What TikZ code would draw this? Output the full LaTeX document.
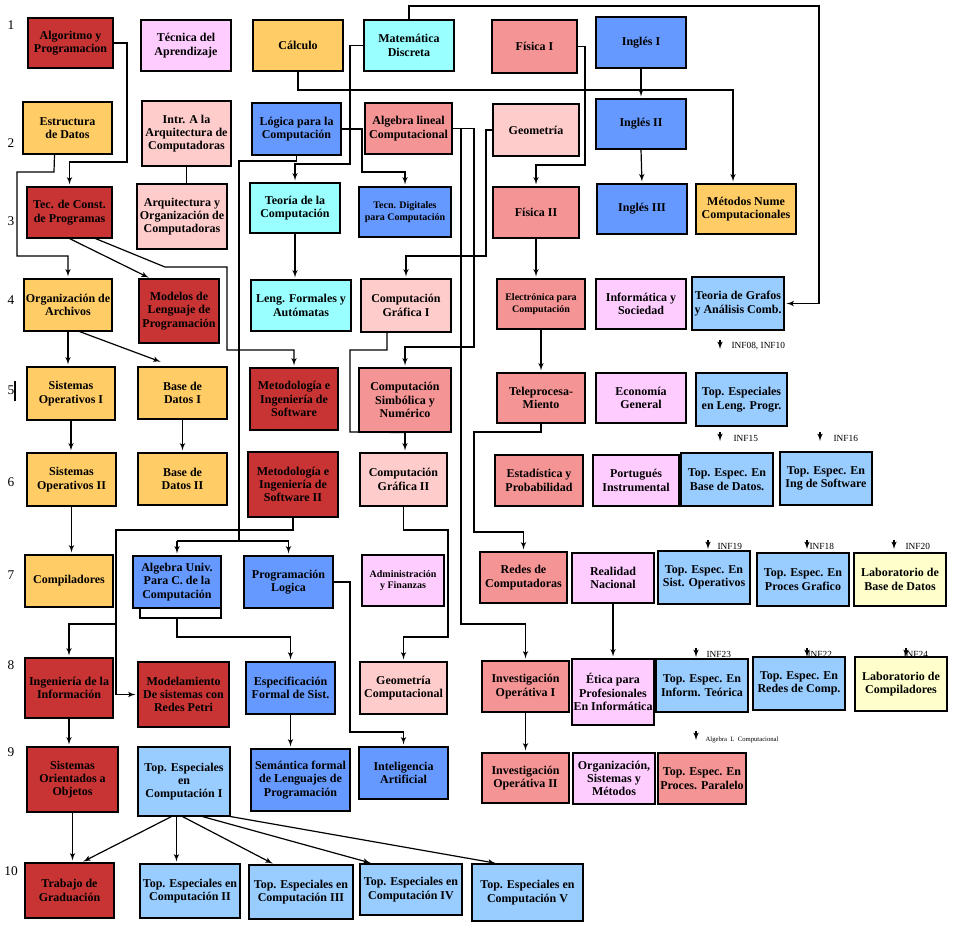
\documentclass[tikz,border=0pt]{standalone}
\usepackage{fontspec}
\setmainfont{Liberation Serif}
\usetikzlibrary{arrows, positioning, calc}

\definecolor{cred}{RGB}{200,52,52}
\definecolor{corange}{RGB}{255,204,102}
\definecolor{cpink}{RGB}{255,204,255}
\definecolor{ccyan}{RGB}{153,255,255}
\definecolor{csalmon}{RGB}{245,148,148}
\definecolor{clpink}{RGB}{255,204,204}
\definecolor{cblue}{RGB}{102,153,255}
\definecolor{clblue}{RGB}{153,204,255}
\definecolor{cyellow}{RGB}{255,255,204}

\begin{document}
\begin{tikzpicture}[
    x=0.75pt, y=-0.75pt,
    course/.style n args={4}{rectangle, draw, line width=0.8pt, inner sep=0pt, align=center,
        font=\fontsize{9}{10}\selectfont\bfseries,
        at={({(#1+#3)/2},{(#2+#4)/2})},
        minimum width={(#3-#1)*0.75pt}, minimum height={(#4-#2)*0.75pt}},
    smalltxt/.style={font=\fontsize{7.5}{8.5}\selectfont\bfseries},
    ln/.style={draw, line width=0.9pt},
    arr/.style={ln, -latex', shorten >=1.5pt},
    infl/.style={anchor=west, inner sep=1pt, font=\fontsize{7}{8}\selectfont},
    rownum/.style={font=\fontsize{10}{11}\selectfont}
]
    \useasboundingbox (0,0) rectangle (960,933);

    % row numbers
    \foreach \n/\y in {1/25, 2/143, 3/221, 4/300, 5/390, 6/482, 7/575, 8/665, 9/752, 10/871}
        \node[rownum] (row\n) at (11,\y) {\n};
    \draw[line width=0.8pt] (15,381) -- (15,401);

    % semester 1
    \node[course={28}{18}{113}{68}, fill=cred] (alg) {Algoritmo y\\Programacion};
    \node[course={141}{20}{231}{71}, fill=cpink] (tec) {Técnica del\\Aprendizaje};
    \node[course={253}{20}{343}{71}, fill=corange] (calc) {Cálculo};
    \node[course={364}{20}{454}{71}, fill=ccyan] (md) {Matemática\\Discreta};
    \node[course={492}{20}{577}{73}, fill=csalmon] (fis1) {Física I};
    \node[course={596}{17}{686}{68}, fill=cblue] (ing1) {Inglés I};

    % semester 2
    \node[course={23}{102}{112}{154}, fill=corange] (ed) {Estructura\\de Datos};
    \node[course={142}{101}{231}{166}, fill=clpink] (intra) {Intr. A la\\Arquitectura de\\Computadoras};
    \node[course={252}{103}{341}{155}, fill=cblue] (log) {Lógica para la\\Computación};
    \node[course={365}{103}{452}{154}, fill=csalmon] (alglin) {Algebra lineal\\Computacional};
    \node[course={493}{104}{579}{156}, fill=clpink] (geo) {Geometría};
    \node[course={596}{99}{686}{149}, fill=cblue] (ing2) {Inglés II};

    % semester 3
    \node[course={27}{187}{112}{238}, fill=cred] (tcp) {Tec. de Const.\\de Programas};
    \node[course={137}{184}{227}{249}, fill=clpink] (arq) {Arquitectura y\\Organización de\\Computadoras};
    \node[course={250}{183}{340}{233}, fill=ccyan] (tcomp) {Teoría de la\\Computación};
    \node[course={359}{187}{451}{237}, fill=cblue, smalltxt] (tdig) {Tecn. Digitales\\para Computación};
    \node[course={493}{187}{579}{238}, fill=csalmon] (fis2) {Física II};
    \node[course={597}{184}{687}{234}, fill=cblue] (ing3) {Inglés III};
    \node[course={696}{184}{796}{234}, fill=corange] (mnc) {Métodos Nume\\Computacionales};

    % semester 4
    \node[course={24}{279}{112}{331}, fill=corange] (oa) {Organización de\\Archivos};
    \node[course={139}{279}{219}{343}, fill=cred] (mlp) {Modelos de\\Lenguaje de\\Programación};
    \node[course={251}{280}{351}{331}, fill=ccyan] (lfa) {Leng. Formales y\\Autómatas};
    \node[course={361}{279}{451}{332}, fill=clpink] (cg1) {Computación\\Gráfica I};
    \node[course={497}{279}{585}{329}, fill=csalmon, smalltxt] (epc) {Electrónica para\\Computación};
    \node[course={596}{279}{686}{329}, fill=cpink] (is) {Informática y\\Sociedad};
    \node[course={692}{277}{784}{330}, fill=clblue] (tga) {Teoria de Grafos\\y Análisis Comb.};

    % semester 5
    \node[course={27}{367}{115}{420}, fill=corange] (so1) {Sistemas\\Operativos I};
    \node[course={138}{367}{227}{419}, fill=corange] (bd1) {Base de\\Datos I};
    \node[course={250}{368}{338}{430}, fill=cred] (mis) {Metodología e\\Ingeniería de\\Software};
    \node[course={359}{368}{451}{432}, fill=csalmon] (csn) {Computación\\Simbólica y\\Numérico};
    \node[course={497}{373}{585}{423}, fill=csalmon] (tel) {Teleprocesa-\\Miento};
    \node[course={596}{373}{686}{423}, fill=cpink] (eg) {Economía\\General};
    \node[course={696}{373}{787}{426}, fill=clblue] (tlp) {Top. Especiales\\en  Leng. Progr.};

    % semester 6
    \node[course={27}{453}{116}{506}, fill=corange] (so2) {Sistemas\\Operativos II};
    \node[course={138}{453}{227}{505}, fill=corange] (bd2) {Base de\\Datos II};
    \node[course={248}{452}{338}{517}, fill=cred] (mis2) {Metodología e\\Ingeniería de\\Software II};
    \node[course={360}{453}{447}{506}, fill=clpink] (cg2) {Computación\\Gráfica II};
    \node[course={495}{455}{583}{506}, fill=csalmon] (ep) {Estadística y\\Probabilidad};
    \node[course={593}{455}{679}{506}, fill=cpink] (pi) {Portugués\\Instrumental};
    \node[course={681}{453}{773}{506}, fill=clblue] (tebd) {Top. Espec. En\\Base de Datos.};
    \node[course={780}{452}{872}{505}, fill=clblue] (teis) {Top. Espec. En\\Ing de Software};

    % semester 7
    \node[course={25}{555}{113}{607}, fill=corange] (comp) {Compiladores};
    \node[course={133}{556}{221}{608}, fill=cblue] (auc) {Algebra Univ.\\Para C. de la\\Computación};
    \node[course={244}{556}{333}{608}, fill=cblue] (pl) {Programación\\Logica};
    \node[course={362}{555}{444}{606}, fill=cpink, smalltxt] (af) {Administración\\y Finanzas};
    \node[course={480}{552}{567}{603}, fill=csalmon] (rc) {Redes de\\Computadoras};
    \node[course={572}{553}{654}{603}, fill=cpink] (rn) {Realidad\\Nacional};
    \node[course={658}{551}{750}{604}, fill=clblue] (teso) {Top. Espec. En\\Sist. Operativos};
    \node[course={757}{553}{849}{606}, fill=clblue] (tepg) {Top. Espec. En\\Proces Grafico};
    \node[course={854}{553}{946}{606}, fill=cyellow] (lbd) {Laboratorio de\\Base de Datos};

    % semester 8
    \node[course={25}{658}{113}{718}, fill=cred] (ii) {Ingeniería de la\\Información};
    \node[course={138}{662}{229}{727}, fill=cred] (msr) {Modelamiento\\De sistemas con\\Redes Petri};
    \node[course={246}{662}{335}{714}, fill=cblue] (efs) {Especificación\\Formal de Sist.};
    \node[course={360}{662}{447}{714}, fill=clpink] (gc) {Geometría\\Computacional};
    \node[course={482}{661}{569}{712}, fill=csalmon] (io1) {Investigación\\Operátiva I};
    \node[course={572}{659}{654}{725}, fill=cpink] (epi) {Ética para\\Profesionales\\En Informática};
    \node[course={656}{659}{748}{712}, fill=clblue] (teit) {Top. Espec. En\\Inform. Teórica};
    \node[course={753}{657}{845}{710}, fill=clblue] (terc) {Top. Espec. En\\Redes de Comp.};
    \node[course={855}{657}{947}{711}, fill=cyellow] (lc) {Laboratorio de\\Compiladores};

    % semester 9
    \node[course={27}{747}{118}{812}, fill=cred] (soo) {Sistemas\\Orientados a\\Objetos};
    \node[course={138}{747}{230}{816}, fill=clblue] (tec1) {Top. Especiales\\en\\Computación I};
    \node[course={251}{749}{350}{811}, fill=cblue] (sfl) {Semántica formal\\de Lenguajes de\\Programación};
    \node[course={359}{747}{448}{799}, fill=cblue] (ia) {Inteligencia\\Artificial};
    \node[course={482}{753}{569}{803}, fill=csalmon] (io2) {Investigación\\Operátiva II};
    \node[course={573}{753}{655}{804}, fill=cpink] (osm) {Organización,\\Sistemas y\\Métodos};
    \node[course={658}{753}{746}{804}, fill=csalmon] (tepp) {Top. Espec. En\\Proces. Paralelo};

    % semester 10
    \node[course={25}{863}{114}{918}, fill=cred] (tg) {Trabajo de\\Graduación};
    \node[course={140}{864}{240}{918}, fill=clblue] (tec2) {Top. Especiales en\\Computación II};
    \node[course={249}{865}{353}{919}, fill=clblue] (tec3) {Top. Especiales en\\Computación III};
    \node[course={360}{864}{462}{915}, fill=clblue] (tec4) {Top. Especiales en\\Computación IV};
    \node[course={472}{864}{583}{921}, fill=clblue] (tec5) {Top. Especiales en\\Computación V};

    % prerequisites
    \draw[arr] (alg.east) -- (127,43) -- (127,162) -| (tcp.north);
    \draw[arr] ($(ed.south)+(-13,0)$) -- (54,172) -- (17,172) -- (17,256) -| (oa.north);
    \draw[arr] ($(tcp.south west)+(43,0)$) -- ($(mlp.north west)+(12,0)$);
    \draw[arr] ($(tcp.south west)+(69,0)$) -- (165,267) -- (227,267) -- (227,350) -| (mis.north);
    \draw[arr] (oa.south) -- (oa.south |- so1.north);
    \draw[arr] ($(oa.south west)+(56,0)$) -- ($(bd1.north west)+(25,-4)$);
    \draw[arr] (so1.south) -- (so1.south |- so2.north);
    \draw[arr] (bd1.south) -- (bd1.south |- bd2.north);
    \draw[arr] (so2.south) -- (so2.south |- comp.north);
    \draw[ln] (intra.south) -- (intra.south |- arq.north);
    \draw[arr] (calc.south) -- (298,90) -| ($(mnc.north)+(-13,0)$);
    \draw[arr] (md.west) -- (350,45.5) -- (350,164) -| (tcomp.north);
    \draw[arr] (tcomp.south) -- (tcomp.south |- lfa.north);
    \draw[ln] (log.south) -- (296.5,161) -- (239,161) -- (239,541);
    \draw[ln] (177,541) -- (289,541);
    \draw[arr] (177,541) -- (auc.north -| 177,0);
    \draw[arr] (pl.north |- 0,541) -- (pl.north);
    \draw[arr] (log.east) -- (362,129) -- (362,172) -| (tdig.north);
    \draw[arr] (md.north) -- (409,6) -- (819,6) |- (tga.east);
    \draw[arr] (alglin.east) -- (461,128.5) -- (461,624) -| (io1.north);
    \draw[arr] (alglin.east) -- (474,128.5) -- (474,347) -| (csn.north);
    \draw[arr] (geo.west) -- (486,130) -- (486,256) -| (cg1.north);
    \draw[arr] (fis1.east) -- (585,46.5) -- (585,165) -| (fis2.north);
    \draw[arr] (ing1.south) -- (ing2.north);
    \draw[arr] (ing2.south) -- (ing3.north);
    \draw[arr] (fis2.south) -- (fis2.south |- epc.north);
    \draw[arr] (epc.south) -- (epc.south |- tel.north);
    \draw[ln] ($(cg1.south)+(-19,0)$) -- (387,350) -- (350,350) -- (350,432) -- (csn.south);
    \draw[arr] (csn.south) -- (csn.south |- cg2.north);
    \draw[arr] (tel.south) -- (541,432) -- (474,432) -- (474,532) -| (rc.north);
    \draw[ln] (mis2.south) -- (293,530) -- (116,530) -- (116,694.5);
    \draw[arr] (116,694.5) -- (msr.west);
    \draw[arr] (116,624) -| (ii.north);
    \draw[ln] (140,608) -- (140,618) -- (221,618) -- (221,608);
    \draw[arr] (177,618) -- (177,637) -| (efs.north);
    \draw[arr] (pl.east) -- (350,582) -- (350,732) -| (ia.north);
    \draw[arr] (cg2.south) -- (403.5,530) -- (448,530) -- (448,637) -| (gc.north);
    \draw[arr] (rn.south) -- (rn.south |- epi.north);
    \draw[arr] (io1.south) -- (io1.south |- io2.north);
    \draw[arr] (efs.south) -- (efs.south |- sfl.north);
    \draw[arr] (ii.south) -- (ii.south |- soo.north);
    \draw[arr] (soo.south) -- (soo.south |- tg.north);

    % topics I branches
    \draw[arr] ($(tec1.south west)+(34,0)$) -- ($(tg.north west)+(57,0)$);
    \draw[arr] ($(tec1.south west)+(39,0)$) -- ($(tec2.north west)+(37,0)$);
    \draw[arr] ($(tec1.south west)+(45,0)$) -- ($(tec3.north west)+(26,0)$);
    \draw[arr] ($(tec1.south west)+(65,0)$) -- ($(tec4.north west)+(13,0)$);
    \draw[arr] (tec1.south east) -- ($(tec5.north west)+(26,0)$);

    % notes on topics
    \foreach \x/\y/\lx/\t in {720/340/730/{INF08, INF10}, 720/432/732/INF15, 820/432/832/INF16,
        708/540/716/INF19, 807/540/808/INF18, 894/540/904/INF20,
        696/648/705/INF23, 807/648/806/INF22, 906/648/902/INF24} {
        \draw[arr] (\x,\y) -- ++(0,11);
        \node[infl] (note\x\y) at (\lx,\y+6) {\t};
    }
    \draw[arr] (696,731) -- ++(0,11);
    \node[infl, font=\fontsize{5}{6}\selectfont] (notealg) at (704,740) {Algebra\ \ L\ \ Computacional};
\end{tikzpicture}
\end{document}
